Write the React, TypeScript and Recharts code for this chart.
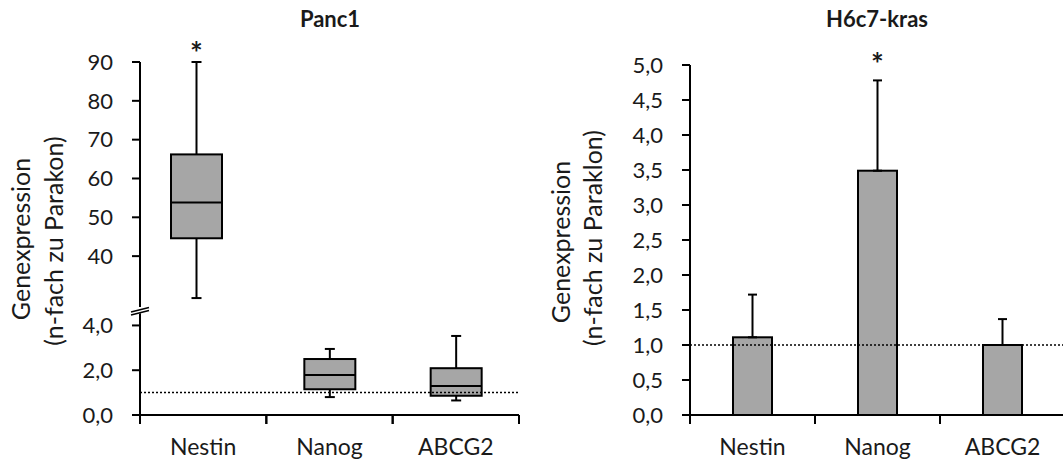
import React from 'react';
import { ComposedChart, Bar, XAxis, YAxis, ReferenceLine, ErrorBar } from 'recharts';

const FONT = 'Lato, "Open Sans", sans-serif';
const TEXT = '#1a1a1a';
const FILL = '#a6a6a6';

const categories = ['Nestin', 'Nanog', 'ABCG2'];

// Panc1: box plot, n-fold vs parental line
const panc1Min = [29.2, 0.8, 0.65];
const panc1Q1 = [44.6, 1.15, 0.86];
const panc1Median = [53.8, 1.79, 1.29];
const panc1Q3 = [66.2, 2.5, 2.09];
const panc1Max = [90, 2.95, 3.53];
const panc1Sig = [true, false, false];
const panc1UpperTicks = [40, 50, 60, 70, 80, 90];
const panc1LowerTicks = [0, 2, 4];

// H6c7-kras: mean + SD
const h6c7Mean = [1.11, 3.49, 1.0];
const h6c7Err = [0.61, 1.29, 0.37];
const h6c7Sig = [false, true, false];
const h6c7Ticks = [0, 0.5, 1, 1.5, 2, 2.5, 3, 3.5, 4, 4.5, 5];

// broken axis: lower part 0..LOWER_MAX, upper part UPPER_MIN..90
const LOWER_MAX = 4.6;
const UPPER_MIN = 26.9;

const boxRows = (upper: boolean) =>
  categories.map((name, i) => {
    const inUpper = panc1Min[i] > LOWER_MAX;
    return {
      name,
      range: inUpper === upper ? [panc1Min[i], panc1Max[i]] : null,
      min: panc1Min[i],
      q1: panc1Q1[i],
      med: panc1Median[i],
      q3: panc1Q3[i],
      max: panc1Max[i],
      sig: panc1Sig[i],
    };
  });

const upperData = boxRows(true);
const lowerData = boxRows(false);

const h6c7Data = categories.map((name, i) => ({
  name,
  mean: h6c7Mean[i],
  err: [0, h6c7Err[i]],
  errVal: h6c7Err[i],
  sig: h6c7Sig[i],
}));

const comma = (v: number) => v.toFixed(1).replace('.', ',');

const BoxShape = (props: any) => {
  const { x, y, width, height, payload } = props;
  if (!payload || !payload.range || !height) return <g />;
  const ppu = height / (payload.max - payload.min);
  const py = (v: number) => y + (payload.max - v) * ppu;
  const cx = x + width / 2;
  const cap = 5;
  return (
    <g>
      <g stroke="#000" strokeWidth={2}>
        <line x1={cx} x2={cx} y1={py(payload.max)} y2={py(payload.q3)} />
        <line x1={cx} x2={cx} y1={py(payload.q1)} y2={py(payload.min)} />
        <line x1={cx - cap} x2={cx + cap} y1={py(payload.max)} y2={py(payload.max)} />
        <line x1={cx - cap} x2={cx + cap} y1={py(payload.min)} y2={py(payload.min)} />
        <rect x={x} y={py(payload.q3)} width={width} height={py(payload.q1) - py(payload.q3)} fill={FILL} />
        <line x1={x} x2={x + width} y1={py(payload.med)} y2={py(payload.med)} />
      </g>
      {payload.sig && (
        <text x={cx} y={py(payload.max) + 2} textAnchor="middle" fill={TEXT}
          fontFamily={FONT} fontSize={30} fontWeight="bold">*</text>
      )}
    </g>
  );
};

const MeanBar = (props: any) => {
  const { x, y, width, height, payload } = props;
  if (!payload || !height) return <g />;
  const ppu = height / payload.mean;
  const errTop = y - payload.errVal * ppu;
  return (
    <g>
      <rect x={x} y={y} width={width} height={height} fill={FILL} stroke="#000" strokeWidth={2} />
      {payload.sig && (
        <text x={x + width / 2} y={errTop - 5} textAnchor="middle" fill={TEXT}
          fontFamily={FONT} fontSize={30} fontWeight="bold">*</text>
      )}
    </g>
  );
};

// category labels in the middle, tick marks on the category borders
const makeCatTick = (halfBand: number) => (props: any) => {
  const { x, y, payload } = props;
  return (
    <g>
      <line x1={x - halfBand} x2={x - halfBand} y1={y} y2={y + 9} stroke="#000" strokeWidth={2} />
      <line x1={x + halfBand} x2={x + halfBand} y1={y} y2={y + 9} stroke="#000" strokeWidth={2} />
      <text x={x} y={y + 40} textAnchor="middle" fill={TEXT} fontFamily={FONT} fontSize={23}>
        {payload.value}
      </text>
    </g>
  );
};

const axisStyle = { stroke: '#000', strokeWidth: 2 };
const yTick = { fill: TEXT, fontFamily: FONT, fontSize: 22 };

const VLabel = ({ x, y, text }: { x: number; y: number; text: string }) => (
  <div style={{
    position: 'absolute', left: x, top: y, transform: 'translate(-50%, -50%) rotate(-90deg)',
    whiteSpace: 'nowrap', fontFamily: FONT, fontSize: 25, color: TEXT, lineHeight: '28px',
  }}>{text}</div>
);

const Title = ({ x, text }: { x: number; text: string }) => (
  <div style={{
    position: 'absolute', left: x, top: 18, transform: 'translate(-50%, -50%)',
    whiteSpace: 'nowrap', fontFamily: FONT, fontSize: 22, fontWeight: 'bold', color: TEXT,
  }}>{text}</div>
);

const LEFT_PLOT_W = 379;
const RIGHT_PLOT_W = 375;

export default function App() {
  return (
    <div style={{ position: 'absolute', left: 0, top: 0, width: 1063, height: 465, overflow: 'hidden', background: '#fff' }}>
      <Title x={330} text="Panc1" />
      <Title x={877} text="H6c7-kras" />
      <VLabel x={20} y={239} text="Genexpression" />
      <VLabel x={53} y={241} text="(n-fach zu Parakon)" />
      <VLabel x={560} y={242} text="Genexpression" />
      <VLabel x={592} y={238} text="(n-fach zu Paraklon)" />

      {/* Panc1 upper segment */}
      <div style={{ position: 'absolute', left: 0, top: 0 }}>
        <ComposedChart width={540} height={310} data={upperData} margin={{ top: 62, right: 21, bottom: 3, left: 0 }}>
          <XAxis dataKey="name" hide padding={{ left: 0, right: 38 }} />
          <YAxis width={140} domain={[UPPER_MIN, 90]} ticks={panc1UpperTicks}
            axisLine={axisStyle} tickLine={axisStyle} tickSize={8} tickMargin={19} tick={yTick} />
          <Bar dataKey="range" barSize={51} shape={BoxShape} isAnimationActive={false} />
        </ComposedChart>
      </div>

      {/* Panc1 lower segment */}
      <div style={{ position: 'absolute', left: 0, top: 310 }}>
        <ComposedChart width={540} height={155} data={lowerData} margin={{ top: 2, right: 21, bottom: 0, left: 0 }}>
          <XAxis dataKey="name" height={50} axisLine={axisStyle} tickLine={false} tickSize={0} tickMargin={0}
            tick={makeCatTick(LEFT_PLOT_W / categories.length / 2)} interval={0} />
          <YAxis width={140} domain={[0, LOWER_MAX]} ticks={panc1LowerTicks} tickFormatter={comma}
            axisLine={axisStyle} tickLine={axisStyle} tickSize={8} tickMargin={19} tick={yTick} />
          <Bar dataKey="range" barSize={51} shape={BoxShape} isAnimationActive={false} />
          <ReferenceLine y={1} stroke="#000" strokeWidth={1.5} strokeDasharray="2 2" />
        </ComposedChart>
      </div>

      {/* axis break marks */}
      <svg style={{ position: 'absolute', left: 126, top: 300 }} width={30} height={22}>
        <line x1={5} y1={13} x2={23} y2={8.5} stroke="#fff" strokeWidth={5} />
        <line x1={5} y1={12} x2={23} y2={7.5} stroke="#000" strokeWidth={1.5} />
        <line x1={5} y1={15} x2={23} y2={10.5} stroke="#000" strokeWidth={1.5} />
      </svg>

      {/* H6c7-kras */}
      <div style={{ position: 'absolute', left: 540, top: 0 }}>
        <ComposedChart width={540} height={465} data={h6c7Data} margin={{ top: 65, right: 15, bottom: 0, left: 0 }}>
          <XAxis dataKey="name" height={50} axisLine={axisStyle} tickLine={false} tickSize={0} tickMargin={0}
            tick={makeCatTick(RIGHT_PLOT_W / categories.length / 2)} interval={0} />
          <YAxis width={150} domain={[0, 5]} ticks={h6c7Ticks} tickFormatter={comma}
            axisLine={axisStyle} tickLine={axisStyle} tickSize={8} tickMargin={19} tick={yTick} />
          <Bar dataKey="mean" barSize={39} shape={MeanBar} isAnimationActive={false}>
            <ErrorBar dataKey="err" width={4.5} stroke="#000" strokeWidth={2} direction="y" />
          </Bar>
          <ReferenceLine y={1} stroke="#000" strokeWidth={1.5} strokeDasharray="2 2" />
        </ComposedChart>
      </div>
    </div>
  );
}
